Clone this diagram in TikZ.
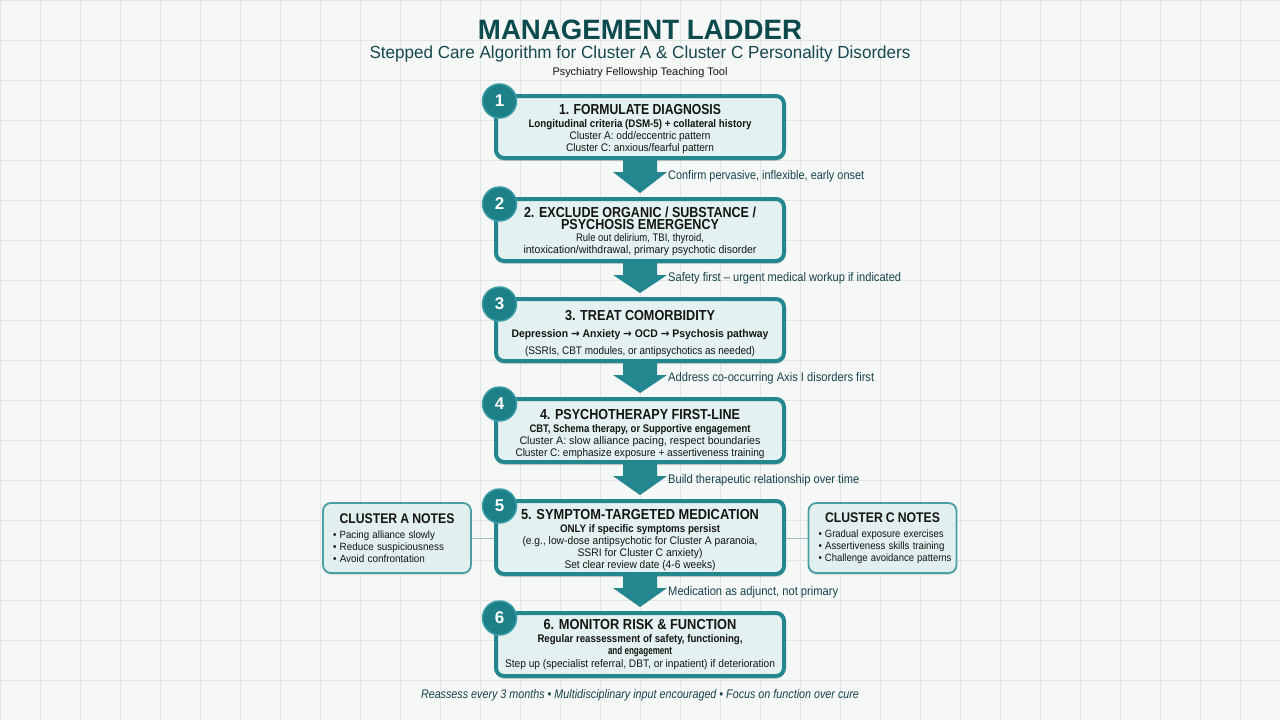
\documentclass[tikz,border=0pt]{standalone}
\usepackage{fontspec}
\usepackage{graphicx}
\setmainfont{Liberation Sans}
\newfontfamily\djv{DejaVu Sans}
\usetikzlibrary{calc,shadows}
\definecolor{bgc}{HTML}{F6F7F7}
\definecolor{gridc}{HTML}{E2E6E6}
\definecolor{tealb}{HTML}{24868F}
\definecolor{tealc}{HTML}{1D7F88}
\definecolor{tealring}{HTML}{3C9CA4}
\definecolor{boxfill}{HTML}{E4F1F1}
\definecolor{sidefill}{HTML}{E2EFEF}
\definecolor{sideborder}{HTML}{4A9EA4}
\definecolor{titlec}{HTML}{0D4A4D}
\definecolor{subc}{HTML}{17484D}
\definecolor{labc}{HTML}{16434A}
\definecolor{sidel}{HTML}{9BBFC2}
\definecolor{txt}{HTML}{141414}
\newcommand\fw[2]{\resizebox{#1pt}{\height}{#2}}
\newcommand\ttl{\fontsize{14.5}{12}\bfseries\selectfont}
\newcommand\djarrow{{\djv\bfseries →}}
\tikzset{
  stepbox/.style={draw=tealb, line width=4pt, fill=boxfill, rounded corners=8pt,
    minimum width=288pt, inner sep=0pt,
    drop shadow={shadow xshift=0pt, shadow yshift=-3pt, opacity=0.15, fill=black}},
  steptext/.style={inner sep=0pt, align=center, text=txt,
    font=\fontsize{11}{12}\selectfont},
  sidebox/.style={draw=sideborder, line width=1.8pt, fill=sidefill, rounded corners=8pt,
    minimum height=70pt, inner xsep=10pt, inner ysep=0pt, text width=128pt, align=left, text=txt,
    font=\fontsize{10.5}{12}\selectfont,
    drop shadow={shadow xshift=0pt, shadow yshift=-2pt, opacity=0.10, fill=black}},
  numc/.style={circle, fill=tealc, draw=tealring, line width=1.5pt, minimum size=34pt,
    inner sep=0pt, text=white, font=\fontsize{17}{17}\bfseries\selectfont},
  arrlab/.style={anchor=west, text=labc, inner sep=0pt, font=\fontsize{12.5}{13}\selectfont},
  bigarrow/.style={fill=tealb},
  sideline/.style={draw=sidel, line width=1pt},
}
\newcommand\stepdown[2]{%
  \fill[bigarrow] ($(#1.south)+(-17,-1)$) -- ($(#1.south)+(-17,12)$) -- ($(#1.south)+(-27,12)$)
    -- ($(#2.north)+(0,-4)$) -- ($(#1.south)+(27,12)$) -- ($(#1.south)+(17,12)$)
    -- ($(#1.south)+(17,-1)$) -- cycle;}
\begin{document}
\begin{tikzpicture}[x=1pt,y=-1pt]
\useasboundingbox (0,0) rectangle (1280,720);
\fill[bgc] (0,0) rectangle (1280,720);
\foreach \gx in {0,40,...,1280} \draw[gridc, line width=0.8pt] (\gx,0) -- (\gx,720);
\foreach \gy in {0,40,...,720} \draw[gridc, line width=0.8pt] (0,\gy) -- (1280,\gy);

% titles
\node[text=titlec, inner sep=0pt] (title) at (640,30) {\fw{324}{\fontsize{28}{30}\bfseries\selectfont MANAGEMENT LADDER}};
\node[text=subc, inner sep=0pt] (subtitle) at (640,54) {\fw{541}{\fontsize{17.5}{18}\selectfont Stepped Care Algorithm for Cluster A \& Cluster C Personality Disorders}};
\node[text=txt, inner sep=0pt] (tagline) at (640,73) {\fw{175}{\fontsize{11}{12}\selectfont Psychiatry Fellowship Teaching Tool}};

% side boxes
\node[sidebox] (na) at (397,538) {\hfil\fw{115}{\fontsize{14}{14}\bfseries\selectfont CLUSTER A NOTES}\\[3pt]
\fw{102}{• Pacing alliance slowly}\\
\fw{111}{• Reduce suspiciousness}\\
\fw{92}{• Avoid confrontation}};
\node[sidebox] (nc) at (882.5,538) {\hfil\fw{115}{\fontsize{14}{14}\bfseries\selectfont CLUSTER C NOTES}\\[3pt]
\fw{125}{• Gradual exposure exercises}\\
\fw{126}{• Assertiveness skills training}\\
\fw{133}{• Challenge avoidance patterns}};

% main steps
\node[stepbox, minimum height=62pt] (b1) at (640,127) {};
\node[stepbox, minimum height=62pt] (b2) at (640,230) {};
\node[stepbox, minimum height=62pt] (b3) at (640,330) {};
\node[stepbox, minimum height=63pt] (b4) at (640,430.5) {};
\node[stepbox, minimum height=73pt] (b5) at (640,537.5) {};
\node[stepbox, minimum height=63pt] (b6) at (640,644.5) {};

\node[steptext] (t1) at ($(b1)+(0,2.5)$) {\fw{162}{\ttl 1. FORMULATE DIAGNOSIS}\\[1pt]
\fw{223}{\bfseries Longitudinal criteria (DSM-5) + collateral history}\\
\fw{141}{Cluster A: odd/eccentric pattern}\\
\fw{148}{Cluster C: anxious/fearful pattern}};
\node[steptext] (t2) at ($(b2)+(0,1)$) {\fw{232}{\ttl 2. EXCLUDE ORGANIC / SUBSTANCE /}\\
\fw{158}{\ttl PSYCHOSIS EMERGENCY}\\
\fw{128}{Rule out delirium, TBI, thyroid,}\\
\fw{233}{intoxication/withdrawal, primary psychotic disorder}};
\node[steptext] (t3) at ($(b3)+(0,3.5)$) {\fw{150}{\ttl 3. TREAT COMORBIDITY}\\[5pt]
\fw{257}{\bfseries Depression \djarrow{} Anxiety \djarrow{} OCD \djarrow{} Psychosis pathway}\\[5pt]
\fw{230}{(SSRIs, CBT modules, or antipsychotics as needed)}};
\node[steptext] (t4) at ($(b4)+(0,3.5)$) {\fw{200}{\ttl 4. PSYCHOTHERAPY FIRST-LINE}\\[1pt]
\fw{221}{\bfseries CBT, Schema therapy, or Supportive engagement}\\
\fw{241}{Cluster A: slow alliance pacing, respect boundaries}\\
\fw{249}{Cluster C: emphasize exposure + assertiveness training}};
\node[steptext] (t5) at ($(b5)+(0,2.5)$) {\fw{238}{\ttl 5. SYMPTOM-TARGETED MEDICATION}\\[1pt]
\fw{160}{\bfseries ONLY if specific symptoms persist}\\
\fw{235}{(e.g., low-dose antipsychotic for Cluster A paranoia,}\\
\fw{125}{SSRI for Cluster C anxiety)}\\
\fw{151}{Set clear review date (4-6 weeks)}};
\node[steptext] (t6) at ($(b6)+(0,0.5)$) {\fw{193}{\ttl 6. MONITOR RISK \& FUNCTION}\\[1pt]
\fw{205}{\bfseries Regular reassessment of safety, functioning,}\\
\fw{64}{\bfseries and engagement}\\[1pt]
\fw{270}{Step up (specialist referral, DBT, or inpatient) if deterioration}};

% side connectors
\draw[sideline] (na.east) -- (na.east -| b5.west);
\draw[sideline] (nc.west) -- (nc.west -| b5.east);

% arrows
\stepdown{b1}{b2}
\stepdown{b2}{b3}
\stepdown{b3}{b4}
\stepdown{b4}{b5}
\stepdown{b5}{b6}

% arrow labels
\node[arrlab] (l1) at (668,176) {\fw{196}{Confirm pervasive, inflexible, early onset}};
\node[arrlab] (l2) at (668,278) {\fw{233}{Safety first – urgent medical workup if indicated}};
\node[arrlab] (l3) at (668,378) {\fw{206}{Address co-occurring Axis I disorders first}};
\node[arrlab] (l4) at (668,480) {\fw{191}{Build therapeutic relationship over time}};
\node[arrlab] (l5) at (668,592) {\fw{170}{Medication as adjunct, not primary}};

% numbers
\node[numc] (c1) at (499.5,101) {1};
\node[numc] (c2) at (499.5,204) {2};
\node[numc] (c3) at (499.5,304) {3};
\node[numc] (c4) at (499.5,404) {4};
\node[numc] (c5) at (499.5,506) {5};
\node[numc] (c6) at (499.5,618) {6};

% footer
\node[text=labc, inner sep=0pt] (footer) at (640,695) {\fw{438}{\fontsize{12.5}{13}\itshape\selectfont Reassess every 3 months • Multidisciplinary input encouraged • Focus on function over cure}};
\end{tikzpicture}
\end{document}
